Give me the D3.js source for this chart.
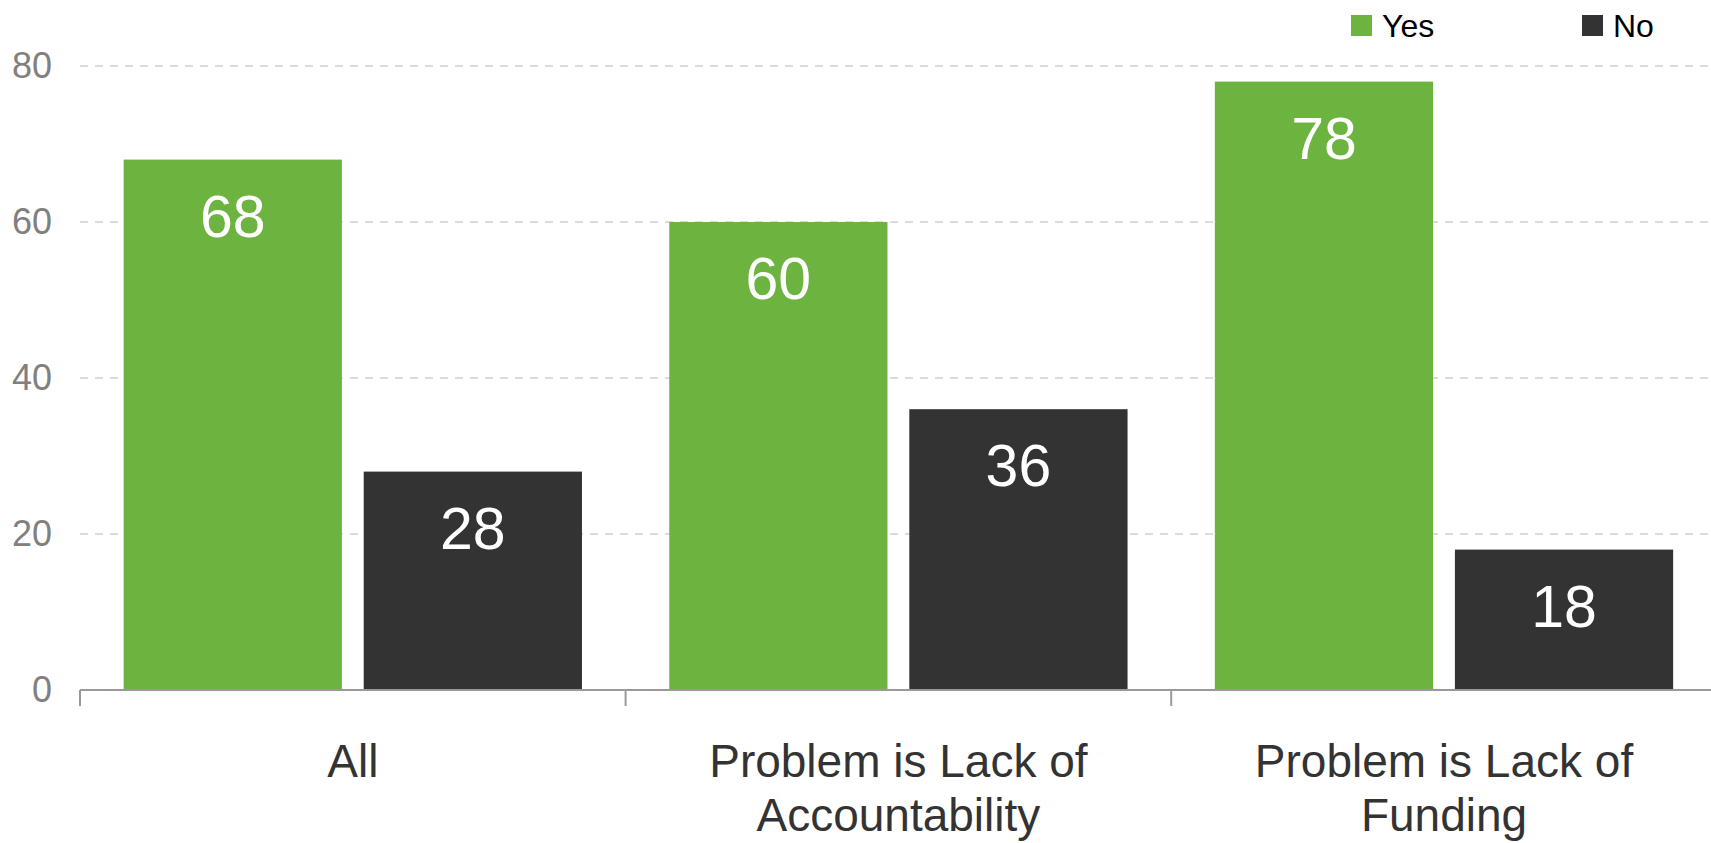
<!DOCTYPE html>
<html>
<head>
<meta charset="utf-8">
<script src="https://cdn.jsdelivr.net/npm/d3@7"></script>
<style>
  html, body { margin: 0; padding: 0; background: #fff; }
  svg { display: block; font-family: "Liberation Sans", Arial, sans-serif; }
</style>
</head>
<body>
<svg id="chart" width="1711" height="843"></svg>
<script>
const categories = ["All", "Problem is Lack of Accountability", "Problem is Lack of Funding"];
const seriesNames = ["Yes", "No"];
const yesValues = [68, 60, 78];
const noValues = [28, 36, 18];
const yTicks = [0, 20, 40, 60, 80];
const colors = { Yes: "#6db33f", No: "#333333" };

const data = categories.map((c, i) => ({ category: c, Yes: yesValues[i], No: noValues[i] }));

const W = 1711, H = 843;
const margin = { left: 80, top: 66, bottom: 153 };
const groupW = 545.6;

const svg = d3.select("#chart");

const x0 = d3.scaleBand().domain(categories)
  .range([margin.left, margin.left + groupW * categories.length]).padding(0);
const x1 = d3.scaleBand().domain(seriesNames)
  .range([0, x0.bandwidth()]).paddingInner(0.0909).paddingOuter(0.1818);
const y = d3.scaleLinear().domain([0, 80]).range([690, 66]);

// gridlines
svg.append("g").selectAll("line").data(yTicks.filter(d => d > 0)).join("line")
  .attr("x1", margin.left).attr("x2", W)
  .attr("y1", d => y(d)).attr("y2", d => y(d))
  .attr("stroke", "#cfcfcf").attr("stroke-width", 1.3)
  .attr("stroke-dasharray", "8,7");

// y labels
const yAxis = d3.axisLeft(y).tickValues(yTicks).tickSize(0).tickPadding(0);
const yg = svg.append("g").attr("transform", `translate(52,0)`).call(yAxis);
yg.select(".domain").remove();
yg.selectAll("text").attr("fill", "#808080").attr("font-size", 36)
  .attr("font-family", "'Liberation Sans', Arial, sans-serif");

// bars
const groups = svg.append("g").selectAll("g").data(data).join("g")
  .attr("transform", d => `translate(${x0(d.category)},0)`);

groups.selectAll("rect").data(d => seriesNames.map(k => ({ key: k, value: d[k] }))).join("rect")
  .attr("x", d => x1(d.key)).attr("width", x1.bandwidth())
  .attr("y", d => y(d.value)).attr("height", d => y(0) - y(d.value))
  .attr("fill", d => colors[d.key]);

groups.selectAll("text.val").data(d => seriesNames.map(k => ({ key: k, value: d[k] }))).join("text")
  .attr("class", "val")
  .attr("x", d => x1(d.key) + x1.bandwidth() / 2)
  .attr("y", d => y(d.value) + 77)
  .attr("text-anchor", "middle")
  .attr("fill", "#fff").attr("font-size", 59)
  .text(d => d.value);

// x axis line
svg.append("line").attr("x1", margin.left).attr("x2", W)
  .attr("y1", y(0)).attr("y2", y(0))
  .attr("stroke", "#999").attr("stroke-width", 2);

// ticks at band boundaries
const boundaries = categories.map(c => x0(c)).concat([x0.range()[1]]);
svg.append("g").selectAll("line").data(boundaries).join("line")
  .attr("x1", d => d).attr("x2", d => d)
  .attr("y1", y(0)).attr("y2", y(0) + 16)
  .attr("stroke", "#999").attr("stroke-width", 2);

// category labels with wrapping
const catLabels = svg.append("g").selectAll("text").data(categories).join("text")
  .attr("x", d => x0(d) + x0.bandwidth() / 2)
  .attr("y", 777)
  .attr("text-anchor", "middle")
  .attr("fill", "#333").attr("font-size", 46);

catLabels.each(function(d) {
  const t = d3.select(this);
  const words = d.split(" ");
  const maxW = x0.bandwidth() * 0.85;
  let line = [];
  let tspan = t.append("tspan").attr("x", t.attr("x")).attr("dy", 0);
  words.forEach(w => {
    line.push(w);
    tspan.text(line.join(" "));
    if (tspan.node().getComputedTextLength() > maxW && line.length > 1) {
      line.pop();
      tspan.text(line.join(" "));
      line = [w];
      tspan = t.append("tspan").attr("x", t.attr("x")).attr("dy", 54).text(w);
    }
  });
});

// legend
const legendX = [1351, 1582];
const legend = svg.append("g").selectAll("g").data(seriesNames).join("g")
  .attr("transform", (d, i) => `translate(${legendX[i]},15)`);
legend.append("rect").attr("width", 21).attr("height", 21).attr("fill", d => colors[d]);
legend.append("text").attr("x", 31).attr("y", 22).attr("font-size", 32)
  .attr("fill", "#000").text(d => d);
</script>
</body>
</html>
